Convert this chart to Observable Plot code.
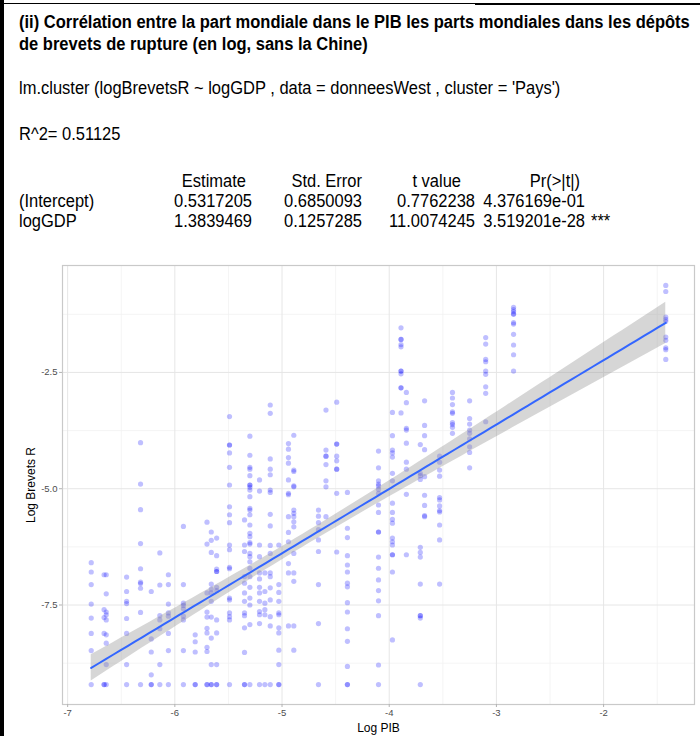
<!DOCTYPE html>
<html>
<head>
<meta charset="utf-8">
<script src="https://cdn.jsdelivr.net/npm/d3@7"></script>
<script src="https://cdn.jsdelivr.net/npm/@observablehq/plot@0.6"></script>
<style>
  body { margin: 0; background: #fff; }
  #page { position: relative; width: 700px; height: 736px; overflow: hidden; background: #fff; }
  #page svg { display: block; }
  .edge { position: absolute; background: #000; }
  .hdr text { font-family: "Liberation Sans Narrow", "Arial Narrow", "Liberation Sans", Arial, sans-serif; fill: #000; }
</style>
</head>
<body>
<div id="page">
  <div id="header"></div>
  <div id="chart"></div>
  <div class="edge" style="left:0;top:0;width:4px;height:736px"></div>
  <div class="edge" style="left:0;top:3px;width:475px;height:1px"></div>
  <div class="edge" style="left:475px;top:3px;width:225px;height:2px"></div>
</div>
<script>
// Header texts: title, model call and the coefficient table
const titleLines = [
  "(ii) Corrélation entre la part mondiale dans le PIB les parts mondiales dans les dépôts",
  "de brevets de rupture (en log, sans la Chine)"
];
const modelCall = "lm.cluster (logBrevetsR ~ logGDP , data = donneesWest , cluster = 'Pays')";
const rSquared = "0.51125";
const coefColumns = ["Estimate", "Std. Error", "t value", "Pr(>|t|)"];
const coefRows = ["(Intercept)", "logGDP"];
const estimate = [0.5317205, 1.3839469];
const stdError = ["0.6850093", "0.1257285"];
const tValue = ["0.7762238", "11.0074245"];
const pValue = ["4.376169e-01", "3.519201e-28"];
const signif = ["", "***"];

// Scatter data: log GDP share of each country, and its log breakthrough-patent shares across years
const countryLogPIB = [
  -6.78, -6.66, -6.64, -6.45, -6.32, -6.22, -6.14, -6.06, -5.92, -5.81,
  -5.70, -5.66, -5.61, -5.49, -5.35, -5.30, -5.21, -5.16, -5.11, -5.03,
  -4.94, -4.89, -4.66, -4.59, -4.49, -4.39, -4.10, -3.97, -3.89, -3.84,
  -3.71, -3.67, -3.53, -3.41, -3.25, -3.10, -2.84, -1.42
];
const countryLogBrevets = [
  [-6.59, -6.79, -7.06, -7.48, -7.78, -8.11, -8.48, -9.21],
  [-6.85, -7.60, -7.77, -8.11, -9.21, -9.21],
  [-6.85, -7.26, -7.65, -7.71, -7.82, -8.14, -8.32, -8.78, -9.21],
  [-6.90, -7.21, -7.42, -7.47, -7.79, -8.11, -8.78, -9.21],
  [-4.01, -4.90, -5.45, -6.18, -6.72, -7.01, -7.04, -7.14, -7.66, -9.21],
  [-7.21, -8.23, -8.51, -9.00, -9.21, -9.21],
  [-6.38, -7.07, -7.73, -7.82, -8.01, -8.78, -9.21],
  [-6.85, -7.06, -7.48, -7.67, -7.74, -8.11, -8.48, -9.21],
  [-5.81, -7.06, -7.46, -7.51, -7.58, -7.74, -7.82, -8.48, -9.21],
  [-8.14, -8.29, -8.51, -9.21, -9.21],
  [-5.72, -6.19, -7.24, -7.65, -7.76, -8.00, -8.10, -8.41, -8.50, -9.21, -9.21],
  [-5.93, -6.11, -6.37, -7.05, -7.16, -7.24, -7.42, -7.76, -8.21, -8.78, -9.21, -9.21],
  [-6.06, -6.44, -6.73, -6.78, -6.78, -7.12, -7.19, -7.82, -8.10, -8.78, -9.21, -9.21],
  [-3.45, -4.06, -4.06, -4.23, -4.54, -4.92, -5.39, -5.56, -5.73, -6.21, -6.31, -6.69, -6.72, -7.35, -7.39, -7.67, -7.75, -7.82, -9.21],
  [-5.67, -6.21, -6.35, -6.89, -7.03, -7.24, -7.42, -7.67, -7.73, -7.99, -8.52, -9.21, -9.21],
  [-3.87, -4.28, -4.54, -4.58, -4.72, -4.92, -4.92, -4.97, -5.03, -5.17, -5.42, -5.46, -5.56, -5.78, -5.96, -6.03, -6.16, -6.19, -6.39, -6.46, -6.57, -6.71, -6.89, -7.12, -7.35, -7.50, -7.92, -9.21],
  [-4.81, -5.05, -6.21, -6.46, -6.81, -6.94, -7.12, -7.24, -7.42, -7.64, -7.71, -7.90, -9.21],
  [-6.81, -7.21, -7.46, -7.60, -7.71, -9.21],
  [-3.20, -3.38, -4.36, -4.58, -4.70, -5.03, -5.08, -5.55, -5.80, -6.22, -6.39, -6.81, -6.89, -7.13, -7.39, -7.75, -7.95, -9.21],
  [-6.21, -7.06, -7.23, -7.42, -7.67, -7.71, -7.99, -8.10, -8.47, -8.78, -9.21, -9.21],
  [-4.03, -4.15, -4.33, -4.45, -4.81, -5.10, -5.13, -5.60, -5.94, -6.14, -6.61, -6.81, -7.95],
  [-3.85, -4.60, -4.63, -4.94, -4.96, -5.46, -5.53, -5.60, -5.71, -5.82, -6.39, -6.81, -6.99, -7.95, -8.47],
  [-5.46, -5.59, -5.73, -5.88, -6.10, -6.35, -7.06, -7.90, -9.21],
  [-3.31, -4.17, -4.30, -4.30, -4.48, -4.83, -4.96, -5.60],
  [-3.14, -4.04, -4.04, -4.30, -4.40, -4.58, -4.58, -5.10, -6.36],
  [-5.08, -5.85, -6.05, -6.44, -6.64, -6.79, -7.03, -7.11, -7.45, -7.65, -8.01, -8.28, -8.82, -9.21, -9.21],
  [-4.19, -4.55, -4.83, -4.90, -4.94, -5.01, -5.10, -5.35, -5.51, -5.93, -5.93, -6.47, -6.71, -6.96, -7.19, -7.41, -7.73, -8.79, -9.21],
  [-3.36, -3.86, -4.17, -4.23, -4.32, -4.67, -4.83, -5.31, -5.51, -5.66, -5.74, -6.06, -6.14, -6.21, -6.42, -6.42, -6.79, -8.25],
  [-1.54, -1.79, -1.79, -1.90, -1.95, -2.47, -2.47, -2.53, -2.83, -2.83, -3.37],
  [-2.93, -3.15, -3.70, -3.74, -4.02, -4.43, -4.58, -5.12, -6.42],
  [-4.05, -4.67, -4.72, -4.80, -6.26, -6.37, -6.47, -7.05, -7.73, -7.73, -7.78, -9.21],
  [-3.11, -3.64, -3.86, -4.16, -4.74, -5.14, -5.36, -5.58, -5.60],
  [-4.30, -4.43, -4.60, -4.73, -5.19, -5.24, -5.37, -5.47, -5.50, -5.78, -6.10, -7.05],
  [-2.93, -3.05, -3.19, -3.35, -3.38, -3.58, -3.62, -3.68, -3.81],
  [-3.11, -3.49, -3.61, -3.74, -3.81, -3.93, -4.10, -4.22, -4.55],
  [-1.75, -1.89, -2.22, -2.27, -2.47, -2.54, -2.81, -2.95, -3.56],
  [-1.10, -1.15, -1.19, -1.24, -1.25, -1.43, -1.46, -1.68, -1.91, -2.12, -2.47],
  [-0.63, -0.76, -1.31, -1.36, -1.40, -1.74, -1.81, -1.97, -2.01, -2.22]
];

// Axis ticks and titles
const xTicks = [-7, -6, -5, -4, -3, -2];
const xMinor = [-6.5, -5.5, -4.5, -3.5, -2.5, -1.5];
const yTicks = [-2.5, -5.0, -7.5];
const yMinor = [-1.25, -3.75, -6.25, -8.75];
const xTitle = "Log PIB";
const yTitle = "Log Brevets R";

// ---------- header ----------
const hdr = d3.select("#header").append("svg")
  .attr("class", "hdr").attr("width", 700).attr("height", 255);

// Condensed look: tall glyphs squeezed horizontally by a scale transform
const bodySize = 18.5;
const narrow = 16.5 / bodySize;
function put(str, x, y, {anchor = "start", size = bodySize, weight = "normal", factor = narrow} = {}) {
  const g = hdr.append("g").attr("transform", `translate(${x},${y}) scale(${factor},1)`);
  return g.append("text").attr("text-anchor", anchor)
    .attr("font-size", size).attr("font-weight", weight).text(str);
}

// the first title line fills the width up to the right edge
const probe = hdr.append("text").attr("font-size", 19).attr("font-weight", "bold").text(titleLines[0]);
const titleFactor = 671 / probe.node().getComputedTextLength();
probe.remove();
titleLines.forEach((t, i) => put(t, 19, 28 + i * 22, {size: 19, weight: "bold", factor: titleFactor}));

put(modelCall, 19, 94);
put("R^2= " + rSquared, 19, 140);

const colRight = [252, 362, 475, 585];
const headRight = [246, 362, 461, 580];
coefColumns.forEach((c, j) => put(c, headRight[j], 187, {anchor: "end"}));

coefRows.forEach((name, r) => {
  const y = 207 + r * 20;
  const cells = [estimate[r].toFixed(7), stdError[r], tValue[r], pValue[r]];
  put(name, 19, y);
  cells.forEach((c, j) => put(c, colRight[j], y, {anchor: "end"}));
  if (signif[r]) put(signif[r], colRight[3] + 6, y);
});

// ---------- scatter with linear fit ----------
const points = countryLogPIB.flatMap((x, i) => countryLogBrevets[i].map(y => ({x, y})));

const fit = x => estimate[0] + estimate[1] * x;
const n = points.length;
const xbar = d3.mean(points, d => d.x);
const sxx = d3.sum(points, d => (d.x - xbar) ** 2);
const sigma = Math.sqrt(d3.sum(points, d => (d.y - fit(d.x)) ** 2) / (n - 2));
const tCrit = 1.965;
const [xMin, xMax] = d3.extent(points, d => d.x);
const band = d3.range(80).map(i => {
  const x = xMin + (xMax - xMin) * i / 79;
  const se = sigma * Math.sqrt(1 / n + (x - xbar) ** 2 / sxx);
  return {x, y: fit(x), lo: fit(x) - tCrit * se, hi: fit(x) + tCrit * se};
});

// ggplot-like 5% padding around the data range
const pad = ([a, b]) => [a - (b - a) * 0.05, b + (b - a) * 0.05];
const [yMin, yMax] = d3.extent(points, d => d.y);

const chart = Plot.plot({
  width: 700,
  height: 481,
  marginTop: 10,
  marginBottom: 32,
  marginLeft: 62,
  marginRight: 6,
  style: {fontFamily: "'Liberation Sans', Arial, sans-serif", fontSize: "9.5px", background: "#fff"},
  x: {domain: pad([xMin, xMax])},
  y: {domain: pad([yMin, yMax])},
  marks: [
    Plot.ruleX(xMinor, {stroke: "#f1f1f1", strokeWidth: 0.8}),
    Plot.ruleY(yMinor, {stroke: "#f1f1f1", strokeWidth: 0.8}),
    Plot.ruleX(xTicks, {stroke: "#e6e6e6", strokeWidth: 1}),
    Plot.ruleY(yTicks, {stroke: "#e6e6e6", strokeWidth: 1}),
    Plot.dot(points, {x: "x", y: "y", r: 2.6, fill: "#0000ff", fillOpacity: 0.25, stroke: null}),
    Plot.areaY(band, {x: "x", y1: "lo", y2: "hi", fill: "#999999", fillOpacity: 0.4}),
    Plot.line(band, {x: "x", y: "y", stroke: "#3366ff", strokeWidth: 2}),
    Plot.frame({stroke: "#c9c9c9", strokeWidth: 1.2}),
    Plot.axisX({ticks: xTicks, tickSize: 3, tickPadding: 2, tickFormat: d => String(d), label: null, stroke: "#b3b3b3", fill: "#4d4d4d"}),
    Plot.axisY({ticks: yTicks, tickSize: 3, tickPadding: 2, tickFormat: d => d.toFixed(1), label: null, stroke: "#b3b3b3", fill: "#4d4d4d"}),
    Plot.text([xTitle], {frameAnchor: "bottom", dy: 24, text: d => d, fontSize: 12, fill: "#000", textAnchor: "middle", lineAnchor: "middle"}),
    Plot.text([yTitle], {frameAnchor: "left", dx: -31, rotate: -90, text: d => d, fontSize: 12, fill: "#000", textAnchor: "middle", lineAnchor: "middle"})
  ]
});
document.getElementById("chart").appendChild(chart);
</script>
</body>
</html>
